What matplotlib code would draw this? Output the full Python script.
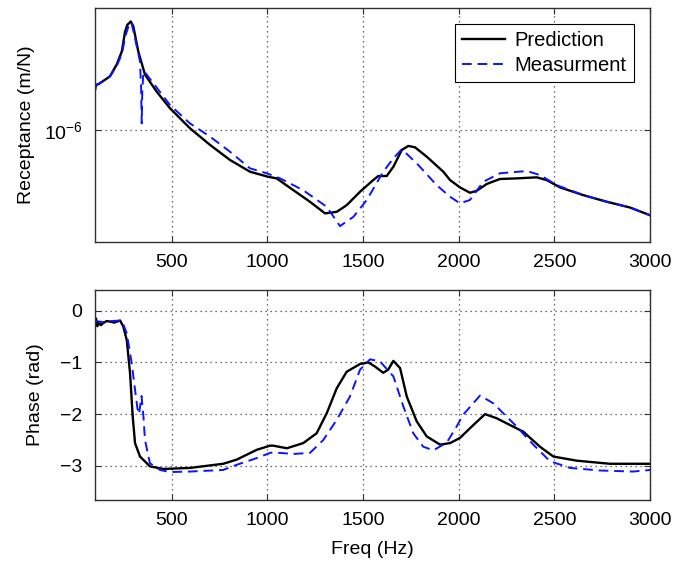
import numpy as np
import matplotlib as mpl
mpl.use('Agg')
import matplotlib.pyplot as plt
from matplotlib.ticker import LogLocator, NullLocator

plt.rc('font', family=['Liberation Sans', 'DejaVu Sans'], size=14)
mpl.rcParams['mathtext.fontset'] = 'custom'
mpl.rcParams['mathtext.rm'] = 'Liberation Sans'
mpl.rcParams['mathtext.it'] = 'Liberation Sans'

# receptance, prediction (m/N)
pred_f = [100, 105, 120, 143, 178, 213, 240, 257, 269, 287, 300, 326, 361, 422,
          492, 596, 701, 805, 910, 1004, 1049, 1136, 1223, 1302, 1363, 1415,
          1485, 1554, 1580, 1624, 1659, 1703, 1737, 1772, 1833, 1920, 1955,
          2007, 2059, 2094, 2147, 2216, 2303, 2408, 2460, 2530, 2651, 2774,
          2895, 3000]
pred_rec = np.array([1.60, 1.70, 1.72, 1.78, 1.88, 2.16, 2.52, 3.19, 3.45,
                     3.59, 3.39, 2.52, 1.92, 1.57, 1.29, 1.02, 0.838, 0.702,
                     0.611, 0.576, 0.565, 0.492, 0.429, 0.374, 0.381, 0.412,
                     0.483, 0.554, 0.581, 0.581, 0.648, 0.790, 0.828, 0.815,
                     0.730, 0.611, 0.554, 0.508, 0.477, 0.488, 0.529, 0.561,
                     0.565, 0.572, 0.554, 0.508, 0.464, 0.429, 0.401,
                     0.366]) * 1e-6

# receptance, measurement (m/N)
meas_f = [100, 143, 178, 213, 240, 262, 280, 290, 309, 335, 341, 344, 347,
          353, 361, 492, 596, 701, 805, 910, 997, 1067, 1187, 1311, 1380, 1450,
          1520, 1606, 1659, 1703, 1781, 1885, 1955, 2007, 2059, 2129, 2216,
          2356, 2425, 2512, 2651, 2774, 2895, 3000]
meas_rec = np.array([1.67, 1.78, 1.88, 2.12, 2.45, 3.10, 3.50, 3.55, 2.95,
                     2.24, 1.60, 1.08, 1.60, 1.99, 1.97, 1.34, 1.08, 0.924,
                     0.774, 0.636, 0.600, 0.565, 0.492, 0.404, 0.322, 0.359,
                     0.438, 0.611, 0.716, 0.796, 0.675, 0.522, 0.455, 0.421,
                     0.438, 0.543, 0.600, 0.616, 0.588, 0.522, 0.464, 0.429,
                     0.401, 0.366]) * 1e-6

# phase, prediction (rad)
pred_pf = [100, 105, 112, 120, 130, 143, 160, 178, 200, 231, 248, 266, 283,
           297, 309, 335, 387, 457, 596, 770, 840, 945, 1014, 1032, 1102,
           1188, 1258, 1311, 1363, 1415, 1485, 1528, 1563, 1606, 1632, 1659,
           1694, 1729, 1781, 1833, 1903, 1955, 2007, 2077, 2138, 2199, 2268,
           2338, 2425, 2495, 2617, 2791, 3000]
pred_ph = [-0.25, -0.15, -0.30, -0.22, -0.28, -0.24, -0.20, -0.21, -0.23,
           -0.19, -0.31, -0.57, -1.21, -2.05, -2.56, -2.82, -3.01, -3.06,
           -3.04, -2.96, -2.88, -2.69, -2.61, -2.61, -2.66, -2.56, -2.37,
           -1.98, -1.50, -1.18, -1.03, -1.00, -1.08, -1.20, -1.14, -0.97,
           -1.11, -1.66, -2.14, -2.43, -2.59, -2.56, -2.46, -2.21, -2.00,
           -2.08, -2.21, -2.34, -2.63, -2.82, -2.90, -2.96, -2.96]

# phase, measurement (rad)
meas_pf = [100, 143, 178, 240, 266, 292, 309, 322, 330, 343, 353, 361, 387,
           440, 492, 596, 769, 840, 945, 1014, 1032, 1136, 1223, 1293, 1363,
           1432, 1485, 1537, 1589, 1659, 1711, 1763, 1815, 1868, 1938, 1980,
           2024, 2112, 2181, 2303, 2390, 2477, 2582, 2739, 2913, 3000]
meas_ph = [-0.20, -0.22, -0.20, -0.19, -0.44, -1.02, -1.53, -1.90, -2.00,
           -1.65, -2.05, -2.50, -2.95, -3.08, -3.12, -3.11, -3.08, -2.98,
           -2.85, -2.75, -2.74, -2.77, -2.75, -2.50, -2.11, -1.66, -1.14,
           -0.94, -0.98, -1.27, -1.85, -2.37, -2.63, -2.70, -2.55, -2.30,
           -2.01, -1.64, -1.79, -2.24, -2.59, -2.91, -3.04, -3.09, -3.11,
           -3.08]

xticks = [500, 1000, 1500, 2000, 2500, 3000]

fig = plt.figure(figsize=(6.74, 5.69), dpi=100)
ax1 = fig.add_axes([0.141, 0.5747, 0.8234, 0.411])
ax2 = fig.add_axes([0.141, 0.1213, 0.8234, 0.369])

for ax in (ax1, ax2):
    for s in ax.spines.values():
        s.set_color('#303030')
        s.set_linewidth(1.0)
    ax.tick_params(direction='in', top=True, right=True, length=4,
                   color='#303030', pad=9, labelsize=14)
    ax.grid(True, color='#404040', linestyle=(0, (1, 3)), linewidth=0.9)
    ax.set_xlim(100, 3000)
    ax.set_xticks(xticks)

ax1.plot(pred_f, pred_rec, color='black', lw=1.7, label='Prediction')
ax1.plot(meas_f, meas_rec, color='#0a14ff', lw=1.4, ls=(0, (5, 3)),
         label='Measurment')
ax1.set_yscale('log')
ax1.set_ylim(2.67e-7, 4.2e-6)
ax1.yaxis.set_major_locator(LogLocator(base=10))
ax1.yaxis.set_minor_locator(NullLocator())
ax1.set_ylabel('Receptance (m/N)', fontsize=14, labelpad=6)
leg = ax1.legend(loc='upper right', fontsize=14.5, fancybox=False,
                 framealpha=1, edgecolor='black', borderaxespad=0.8,
                 handlelength=2.1, handletextpad=0.5, borderpad=0.35,
                 labelspacing=0.3)
leg.get_frame().set_linewidth(0.8)

ax2.plot(pred_pf, pred_ph, color='black', lw=1.7)
ax2.plot(meas_pf, meas_ph, color='#0a14ff', lw=1.4, ls=(0, (5, 3)))
ax2.set_ylim(-3.66, 0.4)
ax2.set_yticks([-3, -2, -1, 0])
ax2.set_ylabel('Phase (rad)', fontsize=14, labelpad=12)
ax2.set_xlabel('Freq (Hz)', fontsize=14, labelpad=8)

fig.savefig('out.png', dpi=100)
